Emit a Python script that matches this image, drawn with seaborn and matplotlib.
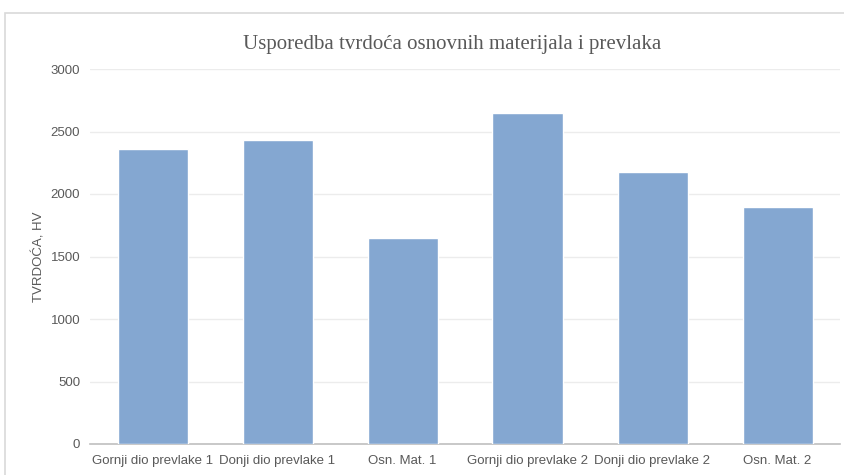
import matplotlib
matplotlib.use('Agg')
import matplotlib.pyplot as plt
import matplotlib.patches as mpatches
import seaborn as sns
import pandas as pd

# podaci (ocitano sa grafa)
kategorije = ['Gornji dio prevlake 1', 'Donji dio prevlake 1', 'Osn. Mat. 1',
              'Gornji dio prevlake 2', 'Donji dio prevlake 2', 'Osn. Mat. 2']
tvrdoca = [2360, 2430, 1650, 2645, 2175, 1895]
y_ticks = [0, 500, 1000, 1500, 2000, 2500, 3000]

df = pd.DataFrame({'uzorak': kategorije, 'HV': tvrdoca})

sns.set_theme(style='white')
plt.rcParams['font.family'] = ['Liberation Sans', 'DejaVu Sans']

fig = plt.figure(figsize=(8.44, 4.75), dpi=100)
ax = fig.add_axes([90 / 844, 31 / 475, 750 / 844, 375 / 475])

sns.barplot(data=df, x='uzorak', y='HV', color='#84A7D1', width=0.56,
            saturation=1, ax=ax, zorder=3)

ax.set_ylim(0, 3000)
ax.set_yticks(y_ticks)
ax.set_xlim(-0.5, len(kategorije) - 0.5)
ax.yaxis.grid(True, color='#ececec', linewidth=1, zorder=0)
ax.tick_params(axis='both', labelsize=9.5, colors='#595959', length=0)
ax.tick_params(axis='x', pad=8)
ax.tick_params(axis='y', pad=7)
for s in ['top', 'right', 'left']:
    ax.spines[s].set_visible(False)
ax.spines['bottom'].set_color('#bfbfbf')
ax.spines['bottom'].set_linewidth(1.2)

ax.set_xlabel('')
ax.set_ylabel('TVRDOĆA, HV', fontsize=9.5, color='#595959')
ax.yaxis.set_label_coords(-45 / 750, 0.5)

fig.text(452 / 844, 1 - 45 / 475, 'Usporedba tvrdoća osnovnih materijala i prevlaka',
         ha='center', va='center', fontsize=15, color='#595959',
         family=['Liberation Serif', 'DejaVu Serif'])

# okvir grafa
okvir = mpatches.Rectangle((5 / 844, -0.1), 1.0, 1 - 13 / 475 + 0.1,
                           transform=fig.transFigure, fill=False,
                           edgecolor='#d9d9d9', linewidth=1.2)
fig.patches.append(okvir)

plt.savefig('out.png', dpi=100)
plt.close()
